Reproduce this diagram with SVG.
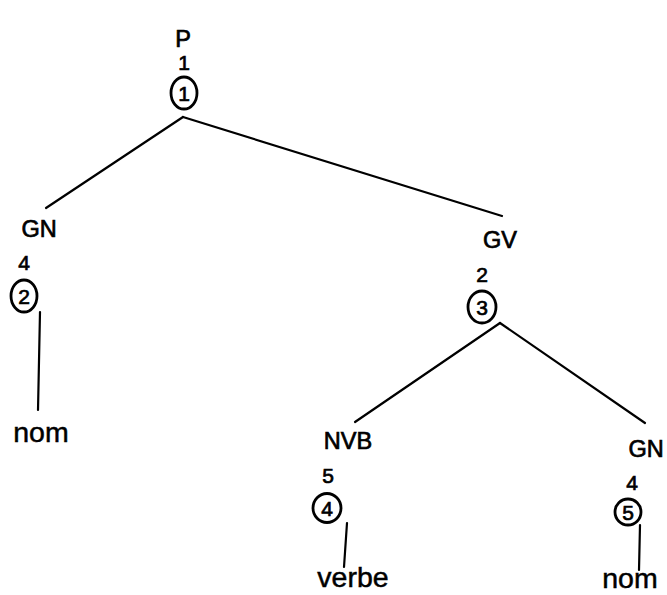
<svg xmlns="http://www.w3.org/2000/svg" width="667" height="595" viewBox="0 0 667 595">
<style>
text{font-family:"Liberation Sans",Arial,sans-serif;fill:#000;stroke:#000;stroke-width:0.7;text-anchor:middle}
.cat{font-size:23.5px}
.num{font-size:21px}
.word{font-size:28.5px;stroke-width:0.5}
.ci{fill:none;stroke:#000;stroke-width:2.8}
.cn{font-size:21px}
#edges line{stroke:#000;stroke-width:2.2;stroke-linecap:round}
</style>
<rect width="667" height="595" fill="#fff"/>
<g id="edges">
<line x1="183" y1="117" x2="46" y2="208"/>
<line x1="183" y1="117" x2="502" y2="216"/>
<line x1="40" y1="312" x2="38" y2="410"/>
<line x1="500" y1="323" x2="355" y2="422"/>
<line x1="500" y1="323" x2="645" y2="423"/>
<line x1="347" y1="523" x2="344" y2="567"/>
<line x1="640" y1="525" x2="639" y2="570"/>
</g>
<g id="n1">
<text class="cat" x="183" y="47">P</text>
<text class="num" x="184" y="70">1</text>
<ellipse class="ci" cx="184" cy="93" rx="13" ry="16"/>
<text class="cn" x="184" y="101">1</text>
</g>
<g id="n2">
<text class="cat" x="39" y="237">GN</text>
<text class="num" x="24" y="270">4</text>
<ellipse class="ci" cx="24" cy="296" rx="13" ry="16"/>
<text class="cn" x="24" y="304">2</text>
</g>
<g id="w1"><text class="word" x="41" y="442">nom</text></g>
<g id="n3">
<text class="cat" x="500" y="248">GV</text>
<text class="num" x="482" y="282">2</text>
<ellipse class="ci" cx="482" cy="307" rx="14" ry="16"/>
<text class="cn" x="482" y="315">3</text>
</g>
<g id="n4">
<text class="cat" x="348" y="449">NVB</text>
<text class="num" x="328" y="483">5</text>
<ellipse class="ci" cx="327" cy="508" rx="14" ry="14.5"/>
<text class="cn" x="327" y="516">4</text>
</g>
<g id="w2"><text class="word" x="353" y="587">verbe</text></g>
<g id="n5">
<text class="cat" x="646" y="457">GN</text>
<text class="num" x="632" y="490">4</text>
<ellipse class="ci" cx="628" cy="512" rx="13" ry="13"/>
<text class="cn" x="628" y="519.5">5</text>
</g>
<g id="w3"><text class="word" x="630" y="588">nom</text></g>
</svg>
